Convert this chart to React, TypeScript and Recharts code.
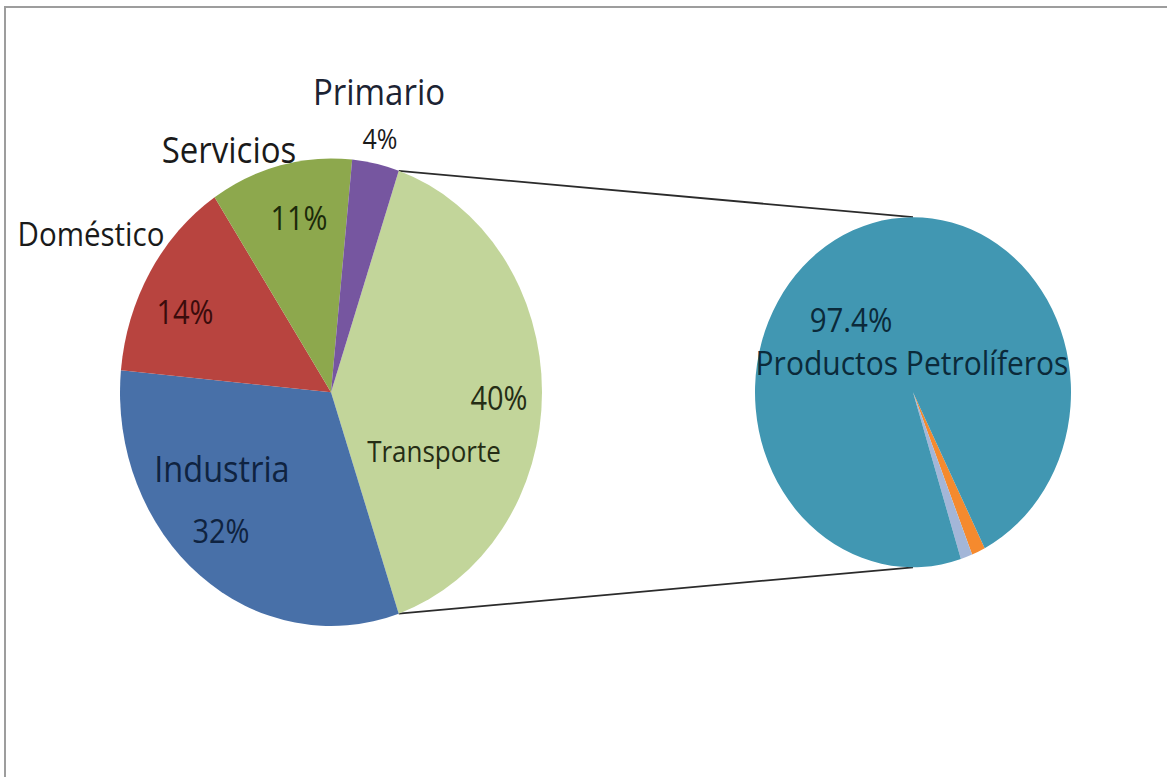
import React from 'react';
import { PieChart, Pie, Cell, Customized } from 'recharts';

// left pie: final energy use by sector (%)
const sectorNames = ['Transporte', 'Industria', 'Doméstico', 'Servicios', 'Primario'];
const sectorValues = [39.6, 31.7, 14.2, 10.9, 3.6];
const sectorColors = ['#c2d59a', '#4870a8', '#b8443f', '#8da84d', '#7656a0'];

// right pie: breakdown of Transporte (%)
const transportNames = ['Otros (a)', 'Otros (b)', 'Productos Petrolíferos'];
const transportValues = [1.4, 1.2, 97.4];
const transportColors = ['#f58a2e', '#a3b6d8', '#4197b2'];

const STRETCH = 1.108;
const FONT = "'Open Sans', 'Noto Sans', sans-serif";
const CX1 = 331;
const CX2 = 913;
const CY = 354;
const R1 = 211;
const R2 = 158;

// Transporte is centred on 3 o'clock, as in a pie-of-pie
const mainStart = (sectorValues[0] / 100) * 360 / 2;
const mainEndOfSplit = mainStart - (sectorValues[0] / 100) * 360;

// label offsets from pie centre: [dx, dy, fontSize, color]
const sectorLabelLayout = [
  { name: [103, 53, 26, '#252d15'], pct: [168, 5, 29, '#252d15'] },
  { name: [-109, 68, 32.5, '#0f2340'], pct: [-110, 125, 29, '#0f2340'] },
  { name: [-240, -143, 29.5, '#1a1a1a'], pct: [-146, -73, 29, '#3a0c0c'] },
  { name: [-102, -220, 33, '#1a1a1a'], pct: [-32, -158, 29, '#1c2a0a'] },
  { name: [48, -272, 33, '#1c2333'], pct: [49, -229, 25, '#1a1a1a'] },
];
const transportLabelLayout: any[] = [
  null,
  null,
  { name: [-1, -27, 30, '#0b2a3a'], pct: [-62, -66, 29.5, '#0b2a3a'] },
];

function makeLabel(layout: any[], cx: number, decimals: number) {
  return (props: any) => {
    const l = layout[props.index];
    if (!l) return null;
    const pctText = (props.percent * 100).toFixed(decimals) + '%';
    return (
      <g>
        <text x={cx + l.name[0]} y={CY + l.name[1]} fontSize={l.name[2]} fill={l.name[3]}
          textAnchor="middle" dominantBaseline="central" fontFamily={FONT}>{props.name}</text>
        <text x={cx + l.pct[0]} y={CY + l.pct[1]} fontSize={l.pct[2]} fill={l.pct[3]}
          textAnchor="middle" dominantBaseline="central" fontFamily={FONT}>{pctText}</text>
      </g>
    );
  };
}

const Connectors = () => {
  const rad = Math.PI / 180;
  const a = mainStart * rad;
  const b = mainEndOfSplit * rad;
  return (
    <g stroke="#2b2b2b" strokeWidth={1.6}>
      <line x1={CX1 + R1 * Math.cos(a)} y1={CY - R1 * Math.sin(a)} x2={CX2} y2={CY - R2} />
      <line x1={CX1 + R1 * Math.cos(b)} y1={CY - R1 * Math.sin(b)} x2={CX2} y2={CY + R2} />
    </g>
  );
};

export default function App() {
  const sectorData = sectorNames.map((name, i) => ({ name, value: sectorValues[i] }));
  const transportData = transportNames.map((name, i) => ({ name, value: transportValues[i] }));

  return (
    <div style={{ position: 'fixed', left: 0, top: 0, width: 1167, height: 777, overflow: 'hidden', background: '#fff' }}>
      <div style={{ position: 'absolute', left: 4, top: 6, width: 1200, height: 800, borderLeft: '2px solid #9d9d9d', borderTop: '2px solid #9d9d9d' }} />
      <div style={{ position: 'absolute', left: 0, top: 0, transform: `scaleY(${STRETCH})`, transformOrigin: '0 0' }}>
        <PieChart width={1167} height={702} margin={{ top: 0, right: 0, bottom: 0, left: 0 }}>
          <Customized component={Connectors} />
          <Pie
            data={sectorData}
            dataKey="value"
            nameKey="name"
            cx={CX1}
            cy={CY}
            outerRadius={R1}
            startAngle={mainStart}
            endAngle={mainStart - 360}
            stroke="none"
            label={makeLabel(sectorLabelLayout, CX1, 0)}
            labelLine={false}
            isAnimationActive={false}
          >
            {sectorData.map((d, i) => (
              <Cell key={d.name} fill={sectorColors[i]} />
            ))}
          </Pie>
          <Pie
            data={transportData}
            dataKey="value"
            nameKey="name"
            cx={CX2}
            cy={CY}
            outerRadius={R2}
            startAngle={-63}
            endAngle={-423}
            stroke="none"
            label={makeLabel(transportLabelLayout, CX2, 1)}
            labelLine={false}
            isAnimationActive={false}
          >
            {transportData.map((d, i) => (
              <Cell key={d.name} fill={transportColors[i]} />
            ))}
          </Pie>
        </PieChart>
      </div>
    </div>
  );
}
